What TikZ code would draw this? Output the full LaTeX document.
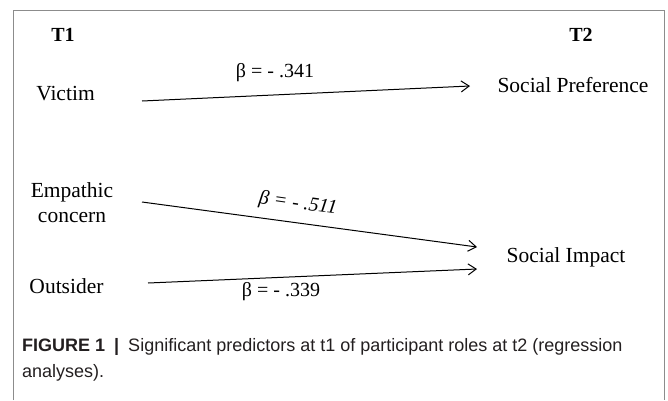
\documentclass[tikz,border=0pt]{standalone}
\usepackage{fontspec}
\setmainfont{Liberation Serif}
\newfontfamily\capfont{Liberation Sans}
\usetikzlibrary{arrows.meta}
\definecolor{framegray}{RGB}{140,140,140}
\definecolor{captext}{RGB}{35,31,32}
\begin{document}
\begin{tikzpicture}[x=1pt, y=-1pt,
    every node/.style={inner sep=0pt, font=\fontsize{21.5}{25}\selectfont},
    wave/.style={font=\fontsize{20}{24}\selectfont\bfseries},
    coef/.style={font=\fontsize{20}{24}\selectfont},
    path/.style={line width=1pt, -{Straight Barb[length=8pt, width=11pt, line width=1pt]}}]
        \useasboundingbox (0,0) rectangle (668,400);
        \draw[framegray, line width=1pt] (13,400) -- (13,10) -- (664,10) -- (664,400);
        \node[wave] (t1) at (63,35) {T1};
        \node[wave] (t2) at (581,35) {T2};
        \node[anchor=base] (victim) at (65.5,100) {Victim};
        \node[align=center] (empathy) at (72,203) {Empathic\\concern};
        \node[anchor=base] (outsider) at (66.5,293) {Outsider};
        \node[anchor=base] (pref) at (573,92) {Social Preference};
        \node[anchor=base] (impact) at (566,262) {Social Impact};
        \coordinate (v1) at (142,101);
        \coordinate (v2) at (470,86);
        \coordinate (e1) at (142,202);
        \coordinate (e2) at (477,247);
        \coordinate (o1) at (148,283);
        \coordinate (o2) at (477,269);
        \draw[path] (v1) -- (v2);
        \draw[path] (e1) -- (e2);
        \draw[path] (o1) -- (o2);
        \node[coef] (b1) at (275,73) {β = - .341};
        \node[coef, rotate=-8] (b2) at (298,204) {\itshape β = - .511};
        \node[coef] (b3) at (281,292) {β = - .339};
        \node[anchor=base west, align=left, text=captext, font=\capfont\fontsize{18}{26}\selectfont] (caption) at (22,377)
            {\textbf{FIGURE 1}\enspace\textbf{|}\enspace Significant predictors at t1 of participant roles at t2 (regression\\analyses).};
    \end{tikzpicture}
\end{document}
